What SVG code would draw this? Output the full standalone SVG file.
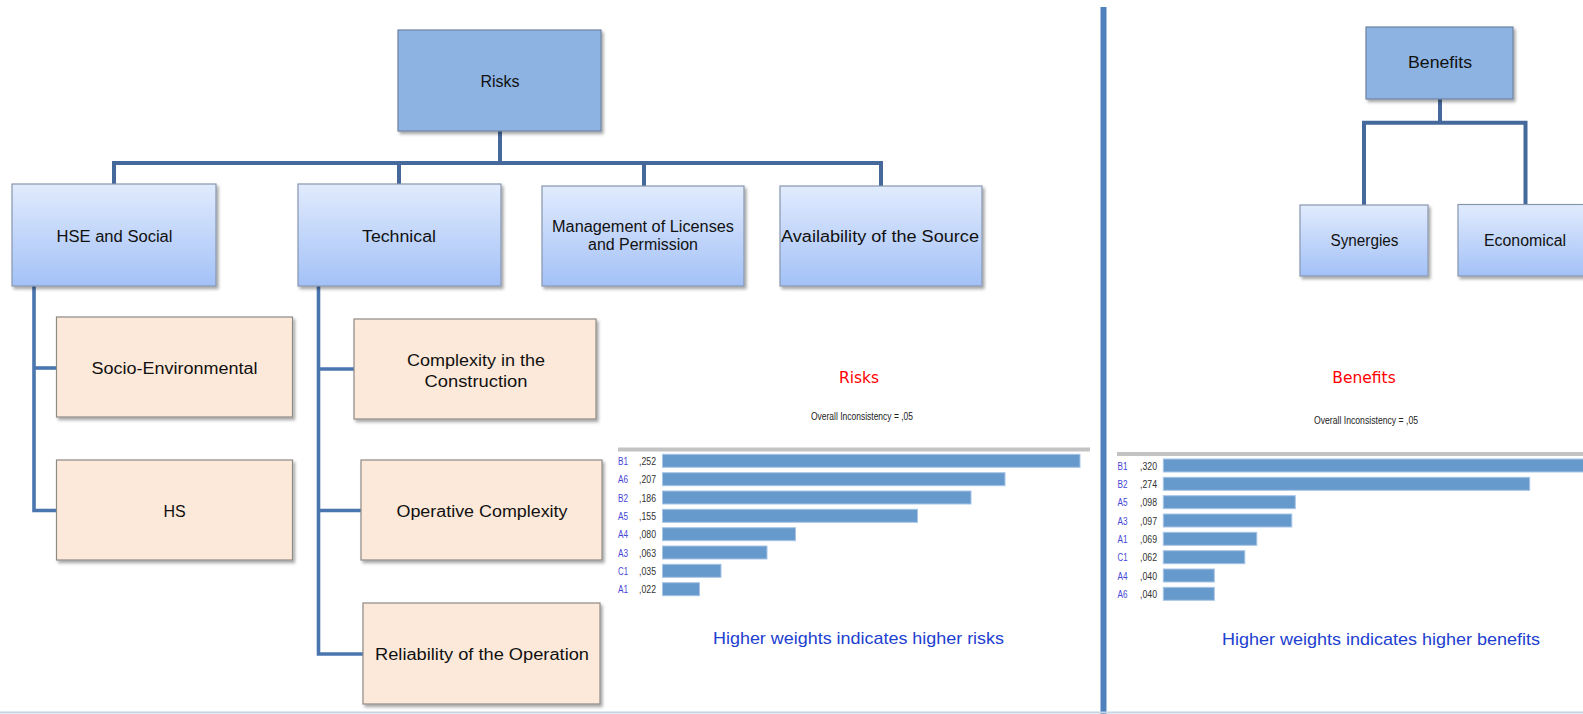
<svg xmlns="http://www.w3.org/2000/svg" width="1583" height="714" viewBox="0 0 1583 714">
<defs>
<linearGradient id="gBlue" x1="0" y1="0" x2="0" y2="1">
<stop offset="0" stop-color="#e1ebfd"/>
<stop offset="1" stop-color="#a3c1f7"/>
</linearGradient>
<filter id="sh" x="-10%" y="-10%" width="130%" height="130%">
<feDropShadow dx="2" dy="2.5" stdDeviation="1.5" flood-color="#000" flood-opacity="0.35"/>
</filter>
<style>
.root{fill:#8db3e2;stroke:#6f83a0;stroke-width:1.2;filter:url(#sh)}
.l1{fill:url(#gBlue);stroke:#8797ad;stroke-width:1.2;filter:url(#sh)}
.l2{fill:#fde9d9;stroke:#8e8a86;stroke-width:1.2;filter:url(#sh)}
.t{font-family:"Liberation Sans",Arial,sans-serif;font-size:16px;fill:#111;text-anchor:middle}
.conn{fill:none;stroke:#46699b;stroke-width:4;stroke-linejoin:miter}
.conn2{fill:none;stroke:#4a76b0;stroke-width:3.6}
.bar{fill:#6699cc;stroke:#a8c5e6;stroke-width:1}
.lab{font-family:"Liberation Sans",Arial,sans-serif;font-size:10px;fill:#4646d6}
.val{font-family:"Liberation Sans",Arial,sans-serif;font-size:10px;fill:#333}
.title{font-family:"DejaVu Sans",Verdana,sans-serif;font-size:15.5px;fill:#ff0000;text-anchor:middle}
.inc{font-family:"Liberation Sans",Arial,sans-serif;font-size:10.5px;fill:#222;text-anchor:middle}
.note{font-family:"Liberation Sans",Arial,sans-serif;font-size:17px;fill:#2040d0;text-anchor:middle}
</style>
</defs>
<rect x="0" y="0" width="1583" height="714" fill="#ffffff"/>

<g id="connectors">
<path class="conn" d="M114,184 V163 H881 V186"/>
<path class="conn" d="M500,131 V163"/>
<path class="conn" d="M399,184 V163"/>
<path class="conn" d="M644,186 V163"/>
<path class="conn2" d="M34,286 V510.5 H57"/>
<path class="conn2" d="M34,368 H57"/>
<path class="conn2" d="M318.5,286 V654 H363"/>
<path class="conn2" d="M318.5,369 H354"/>
<path class="conn2" d="M318.5,510.5 H361"/>
<path class="conn" d="M1440,99 V122.7"/>
<path class="conn" d="M1364,205 V122.7 H1525.5 V204"/>
</g>

<g id="divider">
<line x1="1103.5" y1="7" x2="1103.5" y2="714" stroke="#4f81bd" stroke-width="6"/>
<line x1="0" y1="712.5" x2="1583" y2="712.5" stroke="#c8d4e2" stroke-width="2"/>
</g>

<g id="node-risks">
<rect class="root" x="398" y="30" width="203" height="101"/>
<text class="t" x="500" y="87">Risks</text>
</g>
<g id="node-hse">
<rect class="l1" x="12" y="184" width="204" height="102"/>
<text class="t" x="114.5" y="242" textLength="116" lengthAdjust="spacingAndGlyphs">HSE and Social</text>
</g>
<g id="node-technical">
<rect class="l1" x="298" y="184" width="203" height="102"/>
<text class="t" x="399" y="242" textLength="74" lengthAdjust="spacingAndGlyphs">Technical</text>
</g>
<g id="node-management">
<rect class="l1" x="542" y="186" width="202" height="100"/>
<text class="t" x="643" y="231.5" font-size="15.5" textLength="182" lengthAdjust="spacingAndGlyphs">Management of  Licenses</text>
<text class="t" x="643" y="250" font-size="15.5" textLength="110" lengthAdjust="spacingAndGlyphs">and Permission</text>
</g>
<g id="node-availability">
<rect class="l1" x="780" y="186" width="202" height="100"/>
<text class="t" x="880" y="241.5" textLength="198" lengthAdjust="spacingAndGlyphs">Availability of the Source</text>
</g>
<g id="node-socio">
<rect class="l2" x="56.5" y="317" width="236" height="100"/>
<text class="t" x="174.6" y="374" textLength="166" lengthAdjust="spacingAndGlyphs">Socio-Environmental</text>
</g>
<g id="node-hs">
<rect class="l2" x="56.5" y="460" width="236" height="100"/>
<text class="t" x="174.6" y="516.5">HS</text>
</g>
<g id="node-complexity">
<rect class="l2" x="354" y="319" width="242" height="100"/>
<text class="t" x="476" y="366" textLength="138" lengthAdjust="spacingAndGlyphs">Complexity in the</text>
<text class="t" x="476" y="386.5" textLength="103" lengthAdjust="spacingAndGlyphs">Construction</text>
</g>
<g id="node-operative">
<rect class="l2" x="361" y="460" width="241" height="100"/>
<text class="t" x="482" y="516.5" textLength="171" lengthAdjust="spacingAndGlyphs">Operative Complexity</text>
</g>
<g id="node-reliability">
<rect class="l2" x="363" y="603" width="237" height="101"/>
<text class="t" x="482" y="660" textLength="214" lengthAdjust="spacingAndGlyphs">Reliability of the Operation</text>
</g>

<g id="node-benefits">
<rect class="root" x="1366" y="27" width="147" height="72"/>
<text class="t" x="1440" y="68" textLength="64" lengthAdjust="spacingAndGlyphs">Benefits</text>
</g>
<g id="node-synergies">
<rect class="l1" x="1300" y="205" width="128" height="71"/>
<text class="t" x="1364.5" y="246" font-size="15" textLength="68" lengthAdjust="spacingAndGlyphs">Synergies</text>
</g>
<g id="node-economical">
<rect class="l1" x="1458" y="204.5" width="130" height="71.5"/>
<text class="t" x="1525" y="246" font-size="15" textLength="82" lengthAdjust="spacingAndGlyphs">Economical</text>
</g>

<g id="chart-risks">
<text class="title" x="859" y="383">Risks</text>
<text class="inc" x="862" y="420" textLength="102" lengthAdjust="spacingAndGlyphs">Overall Inconsistency = ,05</text>
<rect x="618" y="447.5" width="472" height="4" fill="#c3c3c3"/>
<rect class="bar" x="662.5" y="454.3" width="417.5" height="13"/>
<rect class="bar" x="662.5" y="472.7" width="342.5" height="13"/>
<rect class="bar" x="662.5" y="491" width="308.5" height="13"/>
<rect class="bar" x="662.5" y="509.3" width="255" height="13"/>
<rect class="bar" x="662.5" y="527.7" width="133" height="13"/>
<rect class="bar" x="662.5" y="546" width="104.5" height="13"/>
<rect class="bar" x="662.5" y="564.3" width="58.5" height="13"/>
<rect class="bar" x="662.5" y="582.7" width="37" height="13"/>
<text class="lab" x="618" y="464.8" textLength="10" lengthAdjust="spacingAndGlyphs">B1</text><text class="val" x="639" y="464.8" textLength="17" lengthAdjust="spacingAndGlyphs">,252</text>
<text class="lab" x="618" y="483.2" textLength="10" lengthAdjust="spacingAndGlyphs">A6</text><text class="val" x="639" y="483.2" textLength="17" lengthAdjust="spacingAndGlyphs">,207</text>
<text class="lab" x="618" y="501.5" textLength="10" lengthAdjust="spacingAndGlyphs">B2</text><text class="val" x="639" y="501.5" textLength="17" lengthAdjust="spacingAndGlyphs">,186</text>
<text class="lab" x="618" y="519.8" textLength="10" lengthAdjust="spacingAndGlyphs">A5</text><text class="val" x="639" y="519.8" textLength="17" lengthAdjust="spacingAndGlyphs">,155</text>
<text class="lab" x="618" y="538.2" textLength="10" lengthAdjust="spacingAndGlyphs">A4</text><text class="val" x="639" y="538.2" textLength="17" lengthAdjust="spacingAndGlyphs">,080</text>
<text class="lab" x="618" y="556.5" textLength="10" lengthAdjust="spacingAndGlyphs">A3</text><text class="val" x="639" y="556.5" textLength="17" lengthAdjust="spacingAndGlyphs">,063</text>
<text class="lab" x="618" y="574.8" textLength="10" lengthAdjust="spacingAndGlyphs">C1</text><text class="val" x="639" y="574.8" textLength="17" lengthAdjust="spacingAndGlyphs">,035</text>
<text class="lab" x="618" y="593.2" textLength="10" lengthAdjust="spacingAndGlyphs">A1</text><text class="val" x="639" y="593.2" textLength="17" lengthAdjust="spacingAndGlyphs">,022</text>
<text class="note" x="858.5" y="644.3" textLength="291" lengthAdjust="spacingAndGlyphs">Higher weights indicates higher risks</text>
</g>

<g id="chart-benefits">
<text class="title" x="1364" y="383">Benefits</text>
<text class="inc" x="1366" y="424" textLength="104" lengthAdjust="spacingAndGlyphs">Overall Inconsistency = ,05</text>
<rect x="1117" y="452" width="466" height="4" fill="#c3c3c3"/>
<rect class="bar" x="1163.3" y="459" width="428" height="13"/>
<rect class="bar" x="1163.3" y="477.3" width="366.4" height="13"/>
<rect class="bar" x="1163.3" y="495.7" width="132" height="13"/>
<rect class="bar" x="1163.3" y="514" width="128.5" height="13"/>
<rect class="bar" x="1163.3" y="532.3" width="93.5" height="13"/>
<rect class="bar" x="1163.3" y="550.7" width="81.5" height="13"/>
<rect class="bar" x="1163.3" y="569" width="51" height="13"/>
<rect class="bar" x="1163.3" y="587.3" width="51" height="13"/>
<text class="lab" x="1117.5" y="469.5" textLength="10" lengthAdjust="spacingAndGlyphs">B1</text><text class="val" x="1140" y="469.5" textLength="17" lengthAdjust="spacingAndGlyphs">,320</text>
<text class="lab" x="1117.5" y="487.8" textLength="10" lengthAdjust="spacingAndGlyphs">B2</text><text class="val" x="1140" y="487.8" textLength="17" lengthAdjust="spacingAndGlyphs">,274</text>
<text class="lab" x="1117.5" y="506.2" textLength="10" lengthAdjust="spacingAndGlyphs">A5</text><text class="val" x="1140" y="506.2" textLength="17" lengthAdjust="spacingAndGlyphs">,098</text>
<text class="lab" x="1117.5" y="524.5" textLength="10" lengthAdjust="spacingAndGlyphs">A3</text><text class="val" x="1140" y="524.5" textLength="17" lengthAdjust="spacingAndGlyphs">,097</text>
<text class="lab" x="1117.5" y="542.8" textLength="10" lengthAdjust="spacingAndGlyphs">A1</text><text class="val" x="1140" y="542.8" textLength="17" lengthAdjust="spacingAndGlyphs">,069</text>
<text class="lab" x="1117.5" y="561.2" textLength="10" lengthAdjust="spacingAndGlyphs">C1</text><text class="val" x="1140" y="561.2" textLength="17" lengthAdjust="spacingAndGlyphs">,062</text>
<text class="lab" x="1117.5" y="579.5" textLength="10" lengthAdjust="spacingAndGlyphs">A4</text><text class="val" x="1140" y="579.5" textLength="17" lengthAdjust="spacingAndGlyphs">,040</text>
<text class="lab" x="1117.5" y="597.8" textLength="10" lengthAdjust="spacingAndGlyphs">A6</text><text class="val" x="1140" y="597.8" textLength="17" lengthAdjust="spacingAndGlyphs">,040</text>
<text class="note" x="1381" y="645" textLength="318" lengthAdjust="spacingAndGlyphs">Higher weights indicates higher benefits</text>
</g>
</svg>
